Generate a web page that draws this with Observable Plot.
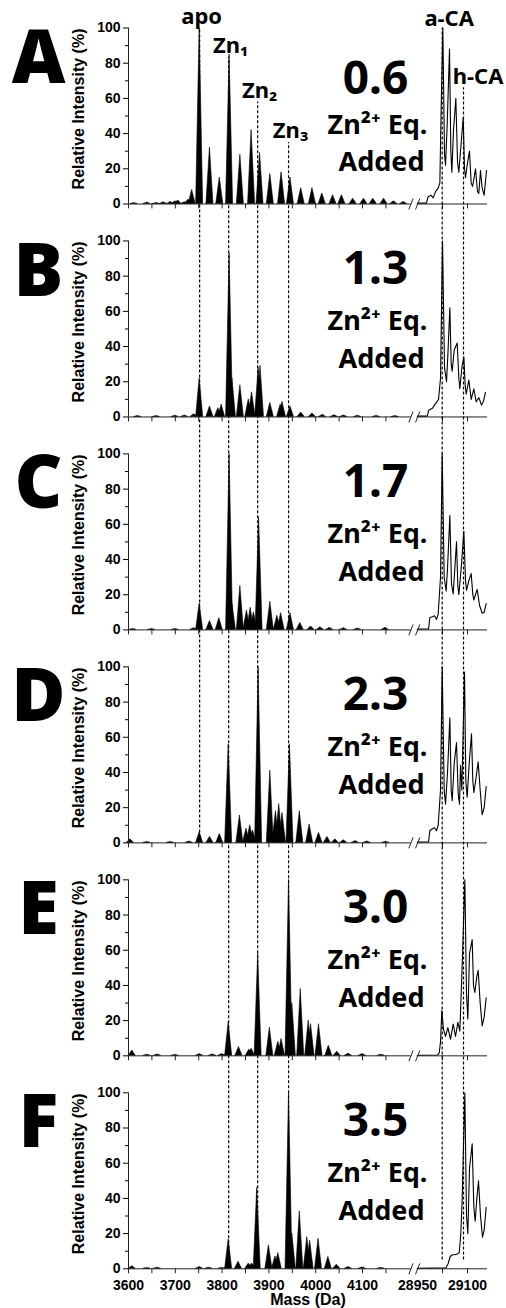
<!DOCTYPE html>
<html><head><meta charset="utf-8">
<script src="https://cdn.jsdelivr.net/npm/d3@7"></script>
<script src="https://cdn.jsdelivr.net/npm/@observablehq/plot@0.6"></script>
<style>body{margin:0;background:#fff}</style>
</head><body><div id="chart"></div>
<script>
// ---------- data ----------
const panelLetters = ["A", "B", "C", "D", "E", "F"];
const zincEquivalents = ["0.6", "1.3", "1.7", "2.3", "3.0", "3.5"];

// low-mass region: [mass (Da), relative intensity (%)] of each peak
const peaksA = [[3612,0.5],[3640,0.8],[3660,0.6],[3675,1],[3690,1.2],[3700,1.5],[3706,2],[3720,1],[3728,2.5],[3736,8],[3752,100],[3774,32],[3795,15],[3816,85],[3839,28],[3863,42],[3881,29],[3903,17],[3927,18],[3946,15],[3969,9],[3993,9],[4014,6],[4037,5],[4056,5],[4080,3],[4103,3],[4123,3],[4146,3],[4167,1.5],[4188,1.2]];
const peaksB = [[3620,0.5],[3660,0.5],[3700,0.7],[3720,0.8],[3740,1.5],[3752,22],[3774,6],[3792,5],[3799,7],[3816,93],[3822,22],[3839,18],[3857,10],[3864,14],[3878,28],[3882,29],[3903,8],[3925,7],[3929,8.5],[3946,6],[3969,2.5],[3993,2],[4015,1.2],[4040,1],[4060,0.8],[4090,0.7],[4130,0.6],[4170,0.5]];
const peaksC = [[3610,0.5],[3650,0.5],[3700,0.5],[3740,1],[3752,15],[3774,5],[3794,6.7],[3816,100],[3822,15],[3839,25],[3853,11],[3861,12.5],[3868,10],[3879,64],[3903,16],[3918,8],[3926,9.5],[3946,9.5],[3967,4],[3990,2],[4010,1.5],[4030,1.2],[4060,1],[4090,0.8],[4149,1.2]];
const peaksD = [[3604,2],[3640,0.5],[3690,0.5],[3730,0.8],[3752,6],[3774,3.4],[3795,5],[3814,56],[3838,15.6],[3852,8],[3860,10],[3866,7],[3878,100],[3903,41],[3915,18],[3922,22],[3929,17],[3945,56],[3966,18],[3987,10.5],[4007,5.7],[4025,3.4],[4042,2],[4060,1.5],[4085,1],[4110,0.8],[4150,0.6]];
const peaksE = [[3608,3],[3640,0.6],[3662,0.8],[3700,0.5],[3752,1],[3780,0.8],[3800,1],[3814,19],[3836,5],[3858,3.5],[3863,4],[3877,58],[3902,16],[3920,8],[3927,9.5],[3943,100],[3950,30],[3968,38],[3985,20],[3990,18],[4007,18],[4028,5.7],[4046,2.3],[4070,1.2],[4100,1],[4140,0.6]];
const peaksF = [[3608,1.5],[3640,0.4],[3662,0.6],[3752,1],[3772,0.6],[3800,0.5],[3814,16.7],[3835,4],[3857,3],[3864,3],[3875,46],[3900,13.4],[3914,7],[3920,9],[3943,100],[3950,20],[3966,32.6],[3982,18],[3988,16],[4006,17],[4027,6.7],[4045,2.3],[4070,1],[4100,0.8],[4140,0.5]];

// carbonic anhydrase region: trace vertices [mass (Da), relative intensity (%)]
const caA = [[28950,0.5],[28977,0.5],[28981,4],[28990,5],[28997,3.5],[29004,7],[29012,9],[29017,12],[29021,55],[29026,100],[29031,28],[29034,22],[29039,45],[29046,88],[29050,30],[29053,18],[29058,42],[29065,60],[29070,24],[29074,18],[29079,30],[29087,49],[29091,20],[29094,15],[29099,22],[29106,30],[29111,12],[29115,10],[29119,14],[29124,20],[29130,7],[29134,6],[29139,19],[29144,9],[29150,5],[29157,19]];
const caB = [[28950,0.5],[28979,0.5],[28984,4],[28995,5],[29004,7.6],[29013,10],[29019,22],[29025,100],[29031,28],[29037,20],[29041,35],[29047,62],[29051,30],[29054,26],[29060,38],[29069,42],[29074,22],[29077,16],[29083,28],[29089,34],[29093,18],[29096,13],[29104,21],[29111,10],[29119,16],[29126,8.6],[29134,11],[29142,6.7],[29148,9],[29154,14]];
const caC = [[28950,0.5],[28983,0.5],[28987,7],[28995,7.5],[29001,8],[29007,6],[29012,9],[29019,30],[29024,100],[29030,30],[29036,22],[29040,35],[29047,65],[29052,26],[29057,20.5],[29062,35],[29067,50],[29071,25],[29074,20],[29081,35],[29089,56],[29094,28],[29097,22.5],[29104,28],[29111,32],[29116,20],[29119,17],[29129,23],[29136,14],[29144,9.5],[29150,10],[29156,15]];
const caD = [[28950,0.5],[28983,0.5],[28987,7],[28995,8],[29001,8.6],[29007,7],[29012,10],[29019,30],[29024,100],[29030,30],[29034,22],[29040,40],[29047,71],[29051,30],[29054,24],[29060,45],[29067,57],[29072,28],[29076,22],[29079,44],[29083,30],[29091,97],[29095,35],[29099,26],[29105,45],[29112,62],[29116,35],[29119,28.6],[29125,36],[29132,46],[29138,30],[29144,16],[29150,20],[29156,32]];
const caE = [[28950,0.3],[29010,0.5],[29015,1.5],[29019,8],[29023,25.7],[29028,15],[29034,11],[29041,16],[29049,9.5],[29057,18],[29064,11],[29071,19],[29077,14],[29084,51],[29092,100],[29097,35],[29101,21],[29106,58],[29114,66],[29118,40],[29122,36],[29128,45],[29132,48.6],[29138,30],[29144,17],[29150,22],[29156,33]];
const caF = [[28950,0.3],[29035,0.5],[29042,3],[29048,7],[29055,8],[29062,8],[29070,8.5],[29075,9],[29080,20],[29084,40],[29092,100],[29097,30],[29101,20],[29106,57],[29114,71],[29119,35],[29123,27],[29128,40],[29133,50],[29139,30],[29145,18],[29150,22],[29156,35]];

// reference species marked with dashed guides
const markerNames = ["apo", "Zn₁", "Zn₂", "Zn₃", "a-CA", "h-CA"];
const markerMass = [3752, 3814, 3876, 3942, 29024, 29088];
const guideTop = [100, 83.5, 58, 35, 100, 66];      // intensity (%) in panel A where the guide starts
const guideEndPanel = [3, 5, 5, 5, 5, 5];           // panel where the guide stops
const guideEnd = [0, 0, 0, 0, 5, 5];                // intensity (%) there

const xTickLabels = [3600, 3700, 3800, 3900, 4000, 4100, 28950, 29100];
const xMinorTicks = [3600, 3650, 3700, 3750, 3800, 3850, 3900, 3950, 4000, 4050, 4100, 4150, 29025, 29100];
const yTickLabels = [0, 20, 40, 60, 80, 100];
const yMinorTicks = [10, 30, 50, 70, 90];

// ---------- layout ----------
const STEP = 121;                 // stacking offset between panels (percent units)
const off = p => -STEP * p;
const panels = d3.range(panelLetters.length);
const spectra = [peaksA, peaksB, peaksC, peaksD, peaksE, peaksF];
const traces = [caA, caB, caC, caD, caE, caF];
const HW = 7.5;                   // drawn half-width of a peak (Da)

const spikeRows = spectra.flatMap((peaks, p) => peaks.flatMap(([m, v], k) => {
  const id = p + "-" + k;
  return [{p, id, m: m - HW, v: 0}, {p, id, m, v}, {p, id, m: m + HW, v: 0}];
}));
const traceRows = traces.flatMap((t, p) => t.map(([m, v]) => ({p, m, v})));
const baseRows = panels.flatMap(p => [{p, a: 3600, b: 4204}, {p, a: 28949, b: 29160}]);
const tickRows = panels.flatMap(p => xMinorTicks.map(m => ({p, m})));
const breakRows = panels.flatMap(p => [{p, a: 4199, b: 4208}, {p, a: 28944, b: 28957}]);
const markers = markerNames.map((name, i) => ({name, m: markerMass[i], top: guideTop[i], endP: guideEndPanel[i], end: guideEnd[i]}));
const yMajor = panels.flatMap(p => yTickLabels.map(v => v + off(p)));
const yMinor = panels.flatMap(p => yMinorTicks.map(v => v + off(p)));
const localValue = g => { const p = Math.round((50 - g) / STEP); return g - off(p); };

const TXT = "'Noto Sans', 'Open Sans', sans-serif";
const SANS = "'Liberation Sans', Arial, sans-serif";

const chart = Plot.plot({
  width: 506,
  height: 1308,
  marginLeft: 128,
  marginRight: 19,
  marginTop: 27.5,
  marginBottom: 39.7,
  style: {fontFamily: SANS, fontSize: "14px", fontWeight: "bold", color: "black", background: "white", overflow: "visible"},
  x: {type: "linear", domain: [3600, 4210, 28940, 29160], range: [128, 413.5, 413.7, 487]},
  y: {type: "linear", domain: [-605, 100], range: [1268.3, 27.5]},
  marks: [
    // spectra, low-mass region (filled)
    Plot.areaY(spikeRows, {x: "m", y1: d => off(d.p), y2: d => off(d.p) + d.v, z: "id", fill: "black", stroke: "black", strokeWidth: 0.6}),
    // carbonic anhydrase region (line)
    Plot.lineY(traceRows, {x: "m", y: d => off(d.p) + d.v, z: "p", stroke: "black", strokeWidth: 1.1}),
    // axes frames
    Plot.ruleY(baseRows, {y: d => off(d.p), x1: "a", x2: "b", stroke: "#222", strokeWidth: 1}),
    Plot.ruleX(panels, {x: () => 3600, y1: p => off(p), y2: p => off(p) + 100, stroke: "#222", strokeWidth: 1}),
    Plot.ruleX(tickRows, {x: "m", y1: d => off(d.p), y2: d => off(d.p) - 2.8, stroke: "#222", strokeWidth: 1}),
    Plot.link(breakRows, {x1: "a", x2: "b", y1: d => off(d.p) - 3.1, y2: d => off(d.p) + 3.1, stroke: "#222", strokeWidth: 1}),
    Plot.axisY({ticks: yMajor, tickFormat: g => String(Math.round(localValue(g))), tickSize: 5, tickPadding: 3, anchor: "left", label: null, fontSize: 14}),
    Plot.axisY({ticks: yMinor, tickFormat: () => "", tickSize: 3, anchor: "left", label: null}),
    Plot.axisX({ticks: xTickLabels, tickFormat: d => String(d), tickSize: 0, tickPadding: 11, anchor: "bottom", label: null, fontSize: 14}),
    Plot.text(["Mass (Da)"], {text: d => d, frameAnchor: "bottom", dy: 36, lineAnchor: "bottom", fontSize: 16, fontFamily: SANS, fontWeight: "bold"}),
    Plot.text(panels, {y: p => off(p) + 54, text: () => "Relative Intensity (%)", frameAnchor: "left", dx: 78 - 128, rotate: -90, textAnchor: "middle", fontSize: 16, fontFamily: SANS, fontWeight: "bold"}),
    // dashed guides
    Plot.ruleX(markers, {x: "m", y1: d => off(d.endP) + d.end, y2: "top", stroke: "black", strokeWidth: 1.2, strokeDasharray: "3,2"}),
    Plot.text(markers.slice(0, 4), {x: "m", y: d => d.top + 2.5, text: "name", dx: 2, textAnchor: "middle", lineAnchor: "bottom", fontSize: 22, fontFamily: TXT, fontWeight: "bold"}),
    Plot.text(markers.slice(4, 5), {x: "m", y: d => d.top + 1, text: "name", dx: 7, textAnchor: "middle", lineAnchor: "bottom", fontSize: 22, fontFamily: TXT, fontWeight: "bold"}),
    Plot.text(markers.slice(5), {x: "m", y: d => d.top + 2.3, text: "name", dx: 14.5, textAnchor: "middle", lineAnchor: "bottom", fontSize: 22, fontFamily: TXT, fontWeight: "bold"}),
    // panel annotations
    Plot.text(panelLetters, {y: (d, i) => off(i) + 69, text: d => d, frameAnchor: "left", dx: 38 - 128, textAnchor: "middle", lineAnchor: "bottom", fontSize: 74, fontFamily: "'Open Sans', 'Noto Sans', sans-serif", fontWeight: 800}),
    Plot.text(zincEquivalents, {y: (d, i) => off(i) + (i === 0 ? 62.6 : 75.3), text: d => d, frameAnchor: "left", dx: 375 - 128, textAnchor: "middle", lineAnchor: "bottom", fontSize: 46, fontFamily: TXT, fontWeight: "bold"}),
    Plot.text(panelLetters, {y: (d, i) => off(i) + (i === 0 ? 40 : 49.6), text: () => "Zn²⁺ Eq.", frameAnchor: "left", dx: 377 - 128, textAnchor: "middle", lineAnchor: "bottom", fontSize: 27, fontFamily: TXT, fontWeight: "bold"}),
    Plot.text(panelLetters, {y: (d, i) => off(i) + (i === 0 ? 19 : 27.8), text: () => "Added", frameAnchor: "left", dx: 381 - 128, textAnchor: "middle", lineAnchor: "bottom", fontSize: 27, fontFamily: TXT, fontWeight: "bold"})
  ]
});
document.getElementById("chart").append(chart);
</script>
</body></html>
